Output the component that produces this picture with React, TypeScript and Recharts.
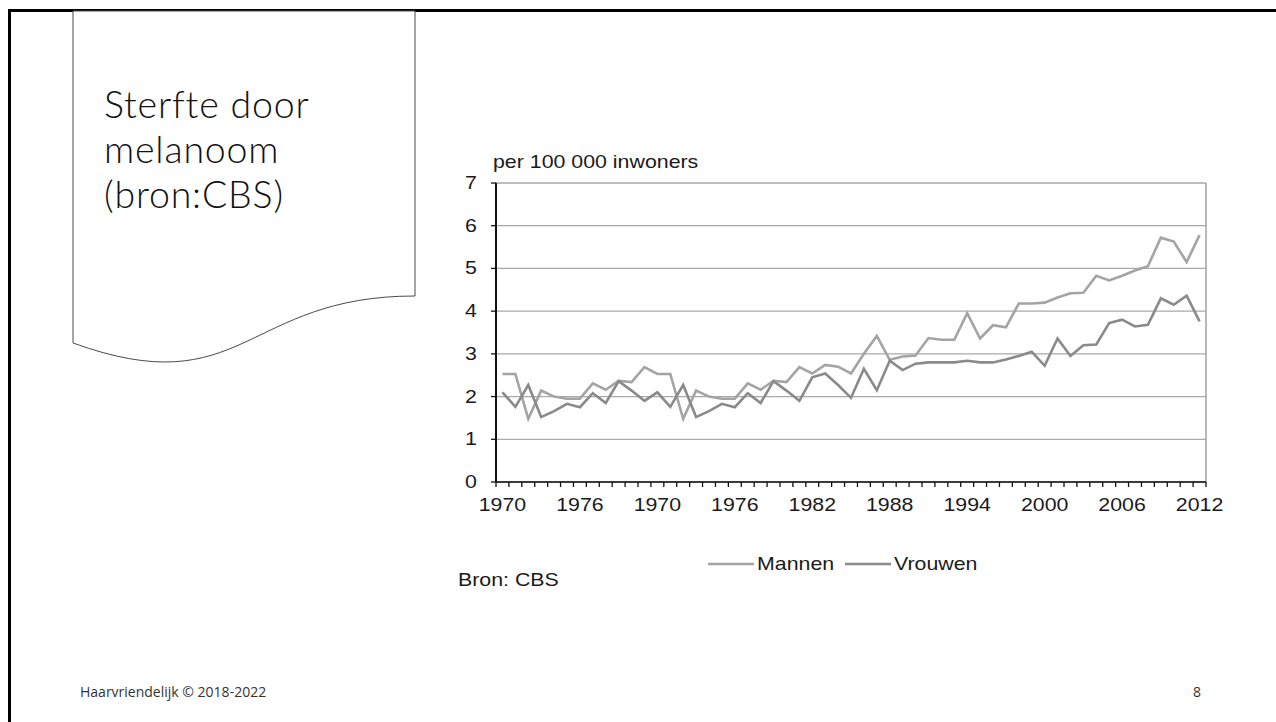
import React from "react";
import {
  LineChart,
  Line,
  XAxis,
  YAxis,
  CartesianGrid,
  ReferenceLine,
  Legend,
} from "recharts";

// Categories as printed on the source chart (1970-1981 appear twice)
const CATEGORIES = [
  "1970", "1971", "1972", "1973", "1974", "1975", "1976", "1977", "1978", "1979", "1980", "1981",
  "1970", "1971", "1972", "1973", "1974", "1975", "1976", "1977", "1978", "1979", "1980", "1981",
  "1982", "1983", "1984", "1985", "1986", "1987", "1988", "1989", "1990", "1991", "1992", "1993",
  "1994", "1995", "1996", "1997", "1998", "1999", "2000", "2001", "2002", "2003", "2004", "2005",
  "2006", "2007", "2008", "2009", "2010", "2011", "2012",
];

const MANNEN = [
  2.53, 2.53, 1.48, 2.14, 2.0, 1.95, 1.95, 2.31, 2.16, 2.37, 2.34, 2.69,
  2.53, 2.53, 1.48, 2.14, 2.0, 1.95, 1.95, 2.31, 2.16, 2.37, 2.34, 2.69,
  2.54, 2.74, 2.7, 2.54, 3.0, 3.42, 2.86, 2.94, 2.96, 3.37, 3.33, 3.33,
  3.95, 3.36, 3.67, 3.62, 4.18, 4.18, 4.2, 4.32, 4.42, 4.43, 4.83, 4.72,
  4.83, 4.95, 5.05, 5.72, 5.63, 5.15, 5.78,
];

const VROUWEN = [
  2.1, 1.76, 2.27, 1.52, 1.66, 1.83, 1.75, 2.08, 1.85, 2.36, 2.14, 1.9,
  2.1, 1.76, 2.27, 1.52, 1.66, 1.83, 1.75, 2.08, 1.85, 2.36, 2.14, 1.9,
  2.45, 2.54, 2.27, 1.97, 2.65, 2.15, 2.84, 2.62, 2.77, 2.8, 2.8, 2.8,
  2.84, 2.8, 2.8, 2.87, 2.95, 3.05, 2.72, 3.36, 2.95, 3.2, 3.22, 3.72,
  3.8, 3.64, 3.68, 4.3, 4.15, 4.36, 3.76,
];

const Y_TICKS = [0, 1, 2, 3, 4, 5, 6, 7];
const LABEL_STEP = 6;
const TITLE_LINES = ["Sterfte door", "melanoom", "(bron:CBS)"];

const SERIES = [
  { key: "mannen", name: "Mannen", color: "#a4a4a4" },
  { key: "vrouwen", name: "Vrouwen", color: "#8a8a8a" },
];

const data = CATEGORIES.map((c, i) => ({
  idx: i,
  year: c,
  mannen: MANNEN[i],
  vrouwen: VROUWEN[i],
}));

const BOUNDARY_TICKS = [...CATEGORIES.map((_, i) => i - 0.5), CATEGORIES.length - 0.5];
const LABEL_TICKS = CATEGORIES.map((_, i) => i).filter((i) => i % LABEL_STEP === 0);
const X_DOMAIN = [-0.5, CATEGORIES.length - 0.5];

const CHART_FONT = "'Liberation Sans', Arial, sans-serif";
const SX = 1.22;
const FS = 17.5;

function XLabelTick(props: any) {
  const { x, y, payload } = props;
  return (
    <g transform={`translate(${x},${y}) scale(${SX},1)`}>
      <text x={0} y={0} dy={23} textAnchor="middle" fontFamily={CHART_FONT} fontSize={FS} fill="#1a1a1a">
        {CATEGORIES[payload.value]}
      </text>
    </g>
  );
}

function YLabelTick(props: any) {
  const { x, y, payload } = props;
  return (
    <g transform={`translate(${x},${y}) scale(${SX},1)`}>
      <text x={0} y={0} dy={6} textAnchor="end" fontFamily={CHART_FONT} fontSize={FS} fill="#1a1a1a">
        {payload.value}
      </text>
    </g>
  );
}

function UnitLabel(props: any) {
  const { viewBox } = props;
  const x = viewBox.x + viewBox.width - 3;
  const y = viewBox.y - 15;
  return (
    <g transform={`translate(${x},${y}) scale(${SX},1)`}>
      <text x={0} y={0} fontFamily={CHART_FONT} fontSize={FS} fill="#1a1a1a">
        per 100 000 inwoners
      </text>
    </g>
  );
}

function LegendContent(props: any) {
  const payload = props.payload || [];
  const offsets = [0, 137];
  return (
    <svg width={300} height={24} style={{ display: "block" }}>
      {payload.map((p: any, k: number) => (
        <g key={p.value} transform={`translate(${offsets[k] || 0},0)`}>
          <line x1={0} y1={12} x2={46} y2={12} stroke={p.color} strokeWidth={2.6} />
          <g transform={`translate(49,18) scale(${SX},1)`}>
            <text x={0} y={0} fontFamily={CHART_FONT} fontSize={FS} fill="#1a1a1a">
              {p.value}
            </text>
          </g>
        </g>
      ))}
    </svg>
  );
}

export default function App() {
  return (
    <div
      style={{
        position: "fixed",
        left: 0,
        top: 0,
        width: 1276,
        height: 722,
        background: "#fff",
        overflow: "hidden",
      }}
    >
      {/* slide frame */}
      <div
        style={{
          position: "absolute",
          left: 8,
          top: 9,
          width: 1300,
          height: 800,
          borderLeft: "3px solid #000",
          borderTop: "3px solid #000",
        }}
      />
      {/* document shape with title */}
      <svg style={{ position: "absolute", left: 0, top: 0 }} width={430} height={380}>
        <path
          d="M73,11 L415,11 L415,296 C244,296 244,404.8 73,343 Z"
          fill="#fff"
          stroke="#4a4a4a"
          strokeWidth={1}
        />
      </svg>
      {TITLE_LINES.map((t, k) => (
        <div
          key={t}
          style={{
            position: "absolute",
            left: 104,
            top: 81 + k * 45,
            height: 45,
            fontFamily: "Lato, 'Open Sans', sans-serif",
            fontWeight: 300,
            fontSize: 37.5,
            letterSpacing: 0.8,
            lineHeight: "45px",
            color: "#111",
            whiteSpace: "nowrap",
          }}
        >
          {t}
        </div>
      ))}

      {/* chart */}
      <div style={{ position: "absolute", left: 400, top: 140 }}>
        <LineChart
          width={830}
          height={460}
          data={data}
          margin={{ top: 43, right: 24, bottom: 72, left: 36 }}
        >
          <CartesianGrid
            xAxisId="a_ticks"
            horizontal={true}
            vertical={false}
            stroke="#a9a9a9"
            strokeWidth={1.3}
          />
          <XAxis
            xAxisId="a_ticks"
            type="number"
            dataKey="idx"
            domain={X_DOMAIN}
            ticks={BOUNDARY_TICKS}
            interval={0}
            allowDataOverflow
            tickFormatter={() => ""}
            tickSize={5}
            height={6}
            axisLine={{ stroke: "#111", strokeWidth: 1.6 }}
            tickLine={{ stroke: "#111", strokeWidth: 1.3 }}
          />
          <XAxis
            xAxisId="b_labels"
            type="number"
            dataKey="idx"
            domain={X_DOMAIN}
            ticks={LABEL_TICKS}
            interval={0}
            allowDataOverflow
            axisLine={false}
            tickLine={false}
            tickSize={0}
            tickMargin={0}
            height={40}
            tick={<XLabelTick />}
          />
          <YAxis
            type="number"
            domain={[0, 7]}
            ticks={Y_TICKS}
            interval={0}
            width={60}
            tickSize={5}
            tickMargin={14}
            axisLine={{ stroke: "#111", strokeWidth: 2 }}
            tickLine={{ stroke: "#111", strokeWidth: 1.3 }}
            tick={<YLabelTick />}
            label={<UnitLabel />}
          />
          <ReferenceLine
            xAxisId="a_ticks"
            x={CATEGORIES.length - 0.5}
            stroke="#a0a0a0"
            strokeWidth={1.5}
          />
          {SERIES.map((s) => (
            <Line
              key={s.key}
              xAxisId="a_ticks"
              type="linear"
              dataKey={s.key}
              name={s.name}
              stroke={s.color}
              strokeWidth={2.6}
              dot={false}
              isAnimationActive={false}
            />
          ))}
          <Legend
            layout="horizontal"
            verticalAlign="middle"
            align="center"
            content={<LegendContent />}
            wrapperStyle={{ left: 308, top: 412, width: 300, height: 24 }}
          />
        </LineChart>
      </div>

      {/* source note */}
      <svg style={{ position: "absolute", left: 450, top: 566 }} width={200} height={30}>
        <g transform={`translate(8,20) scale(${SX},1)`}>
          <text x={0} y={0} fontFamily={CHART_FONT} fontSize={FS} fill="#1a1a1a">
            Bron: CBS
          </text>
        </g>
      </svg>

      {/* footer */}
      <div
        style={{
          position: "absolute",
          left: 80,
          top: 682,
          fontFamily: "'Open Sans', sans-serif",
          fontSize: 14,
          color: "#333",
          whiteSpace: "nowrap",
        }}
      >
        Haarvriendelijk © 2018-2022
      </div>
      <div
        style={{
          position: "absolute",
          left: 1193,
          top: 682,
          fontFamily: "'Open Sans', sans-serif",
          fontSize: 14,
          color: "#333",
        }}
      >
        8
      </div>
    </div>
  );
}
